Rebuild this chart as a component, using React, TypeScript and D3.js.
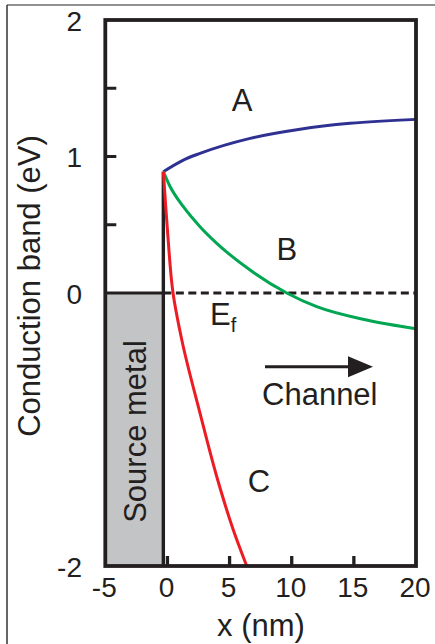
import React from "react";
import * as d3 from "d3";

// Curve A (blue)
const curveAx = [-0.33, 1.28, 2.62, 6.65, 10.67, 14.69, 20];
const curveAy = [0.889, 0.974, 1.023, 1.133, 1.2, 1.243, 1.272];
// Curve B (green)
const curveBx = [-0.33, 0.21, 1.28, 2.62, 3.97, 6.65, 9.6, 12.01, 16.03, 20];
const curveBy = [0.889, 0.78, 0.632, 0.486, 0.364, 0.168, 0.0, -0.1, -0.198, -0.262];
// Curve C (red)
const curveCx = [-0.33, -0.15, 0.05, 0.45, 1.17, 2.62, 3.97, 5.3, 6.38];
const curveCy = [0.889, 0.65, 0.4, 0.0, -0.35, -0.88, -1.346, -1.736, -2.0];

const xTickLabels = [-5, 0, 5, 10, 15, 20];
const xInnerTicks = [0, 5, 10, 15];
const yTickLabels = [2, 1, 0, -2];
const yInnerTicks = [1.5, 1, 0.5];

const interfaceX = -0.33;
const fermiLevel = 0;
const xDomain = [-5, 20];
const yDomain = [-2, 2];

const labels = [
  { text: "A", x: 6.0, y: 1.333 },
  { text: "B", x: 9.6, y: 0.242 },
  { text: "C", x: 7.37, y: -1.458 },
];
const fermiLabel = { x: 3.43, y: -0.234 };
const channelLabel = { x: 7.61, y: -0.82 };
const arrow = { x0: 7.85, x1: 16.54, y: -0.54 };

const FONT = "'Liberation Sans', Arial, Helvetica, sans-serif";
const INK = "#231f20";

export default function App() {
  const W = 435;
  const H = 644;
  const x = d3.scaleLinear().domain(xDomain).range([105.3, 416]);
  const y = d3.scaleLinear().domain(yDomain).range([566, 20]);

  const lineX = d3
    .line<[number, number]>()
    .x((d) => x(d[0]))
    .y((d) => y(d[1]))
    .curve(d3.curveMonotoneX);
  const lineY = d3
    .line<[number, number]>()
    .x((d) => x(d[0]))
    .y((d) => y(d[1]))
    .curve(d3.curveMonotoneY);

  const zip = (a: number[], b: number[]) => a.map((v, i) => [v, b[i]] as [number, number]);

  const curves = [
    { d: lineX(zip(curveAx, curveAy)), color: "#2e3192" },
    { d: lineX(zip(curveBx, curveBy)), color: "#00a651" },
    { d: lineY(zip(curveCx, curveCy)), color: "#ed1c24" },
  ];

  const x0 = x(xDomain[0]);
  const x1 = x(xDomain[1]);
  const yTop = y(yDomain[1]);
  const yBot = y(yDomain[0]);
  const xi = x(interfaceX);
  const yf = y(fermiLevel);

  const ah = x(arrow.x1);
  const ay = y(arrow.y);

  return (
    <div style={{ position: "absolute", left: 0, top: 0 }}>
      <svg width={W} height={H} style={{ display: "block" }} fontFamily={FONT}>
        <rect x={0} y={0} width={W} height={H} fill="#fff" />
        {/* outer border */}
        <line x1={7} y1={5} x2={W} y2={5} stroke="#6d6d6d" strokeWidth={1.5} />
        <line x1={7} y1={5} x2={7} y2={H} stroke="#333" strokeWidth={1.5} />

        {/* source metal */}
        <rect x={x0} y={yf} width={xi - x0} height={yBot - yf} fill="#c3c4c6" />
        <text
          transform={`translate(${(x0 + xi) / 2 + 12},${(yf + yBot) / 2 + 2}) rotate(-90)`}
          textAnchor="middle"
          fontSize={31}
          fill={INK}
        >
          Source metal
        </text>

        {/* inner ticks */}
        {yInnerTicks.map((t) => (
          <line key={"yt" + t} x1={x0} x2={x0 + 11} y1={y(t)} y2={y(t)} stroke={INK} strokeWidth={3} />
        ))}
        {xInnerTicks.map((t) => (
          <line key={"xt" + t} x1={x(t)} x2={x(t)} y1={yBot} y2={yBot - 10} stroke={INK} strokeWidth={3.3} />
        ))}

        {/* fermi level */}
        <line x1={x0} x2={xi} y1={yf} y2={yf} stroke={INK} strokeWidth={3.2} />
        <line x1={xi} x2={x1} y1={yf} y2={yf} stroke={INK} strokeWidth={3} strokeDasharray="8,4.5" />

        {/* interface */}
        <line x1={xi} x2={xi} y1={y(curveCy[0])} y2={yBot} stroke={INK} strokeWidth={3.4} />

        {/* curves */}
        {curves.map((c, i) => (
          <path key={i} d={c.d || ""} fill="none" stroke={c.color} strokeWidth={3} />
        ))}

        {/* frame */}
        <rect x={x0} y={yTop} width={x1 - x0} height={yBot - yTop} fill="none" stroke={INK} strokeWidth={3.8} />

        {/* tick labels */}
        {yTickLabels.map((t) => (
          <text key={"yl" + t} x={82} y={y(t) + 1} dy="0.35em" textAnchor="end" fontSize={28} fill={INK}>
            {t}
          </text>
        ))}
        {xTickLabels.map((t) => (
          <text key={"xl" + t} x={x(t) - 1} y={597} textAnchor="middle" fontSize={28} fill={INK}>
            {t}
          </text>
        ))}

        {/* axis titles */}
        <text x={261} y={636} textAnchor="middle" fontSize={31} fill={INK}>
          x (nm)
        </text>
        <text transform={`translate(40,286) rotate(-90)`} textAnchor="middle" fontSize={31} fill={INK}>
          Conduction band (eV)
        </text>

        {/* curve labels */}
        {labels.map((l) => (
          <text key={l.text} x={x(l.x)} y={y(l.y)} textAnchor="middle" fontSize={31} fill={INK}>
            {l.text}
          </text>
        ))}
        <text x={x(fermiLabel.x)} y={y(fermiLabel.y)} fontSize={31} fill={INK}>
          E
          <tspan fontSize={20} dy={7}>
            f
          </tspan>
        </text>

        {/* channel arrow */}
        <line x1={x(arrow.x0)} x2={ah - 20} y1={ay} y2={ay} stroke={INK} strokeWidth={3} />
        <path d={`M${ah},${ay} L${ah - 25},${ay - 10.5} L${ah - 25},${ay + 10.5} Z`} fill={INK} />
        <text x={x(channelLabel.x)} y={y(channelLabel.y)} fontSize={31} fill={INK}>
          Channel
        </text>
      </svg>
    </div>
  );
}
